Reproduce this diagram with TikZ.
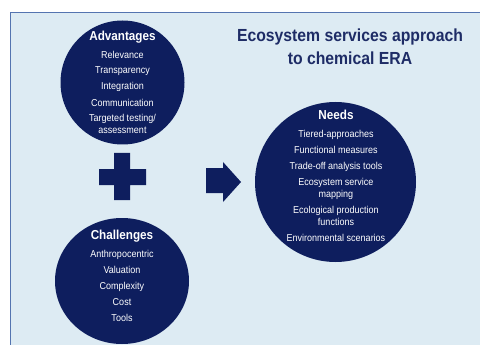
\documentclass[tikz,border=0pt]{standalone}
\usepackage{fontspec}
\setmainfont{Liberation Sans}[FakeStretch=0.9]
\usetikzlibrary{positioning,shapes.geometric}
\definecolor{navy}{RGB}{14,30,94}
\definecolor{titleblue}{RGB}{30,44,102}
\definecolor{panel}{RGB}{221,235,243}
\definecolor{rulecol}{RGB}{84,116,176}

\begin{document}
\begin{tikzpicture}[x=1pt,y=-1pt,
  disc/.style={ellipse,fill=navy,inner sep=0pt},
  head/.style={text=white,font=\fontsize{13}{15}\selectfont\bfseries,anchor=base},
  items/.style={text=white,font=\fontsize{10}{12}\selectfont,align=center,anchor=base},
  title/.style={text=titleblue,font=\fontsize{17.5}{23}\selectfont\bfseries,align=center,anchor=base}]
\useasboundingbox (0,0) rectangle (480,345);
% panel
\fill[panel] (10,12) rectangle (480,345);
\draw[rulecol,line width=0.8pt] (10,345) -- (10,12) -- (480,12);

% multi-line nodes sit on the baseline of their last line
\node[title] (Title) at (350,65) {Ecosystem services approach\\to chemical ERA};

% the three discs
\node[disc,minimum width=124pt,minimum height=124pt] (Adv) at (122.5,82.5) {};
\node[disc,minimum width=134pt,minimum height=126pt] (Chal) at (122,281) {};
\node[disc,minimum width=161pt,minimum height=160pt] (Needs) at (335.5,182) {};

\node[head] (AdvH) at (122.5,40.5) {Advantages};
\node[items] (AdvL) at (122.5,134) {Relevance\\[4pt]Transparency\\[4pt]Integration\\[4pt]Communication\\[4pt]Targeted testing/\\assessment};

\node[head] (ChalH) at (122,239.3) {Challenges};
\node[items] (ChalL) at (122,321) {Anthropocentric\\[4pt]Valuation\\[4pt]Complexity\\[4pt]Cost\\[4pt]Tools};

\node[head] (NeedsH) at (336,119.5) {Needs};
\node[items] (NeedsL) at (336,241) {Tiered-approaches\\[4pt]Functional measures\\[4pt]Trade-off analysis tools\\[4pt]Ecosystem service\\mapping\\[4pt]Ecological production\\functions\\[4pt]Environmental scenarios};

% plus and arrow
\fill[navy] (114,153) -- (130,153) -- (130,169) -- (146,169) -- (146,185) -- (130,185)
  -- (130,200) -- (114,200) -- (114,185) -- (99,185) -- (99,169) -- (114,169) -- cycle;
\fill[navy] (206,168) -- (223,168) -- (223,162) -- (241,182) -- (223,202) -- (223,193)
  -- (206,193) -- cycle;
\end{tikzpicture}
\end{document}
